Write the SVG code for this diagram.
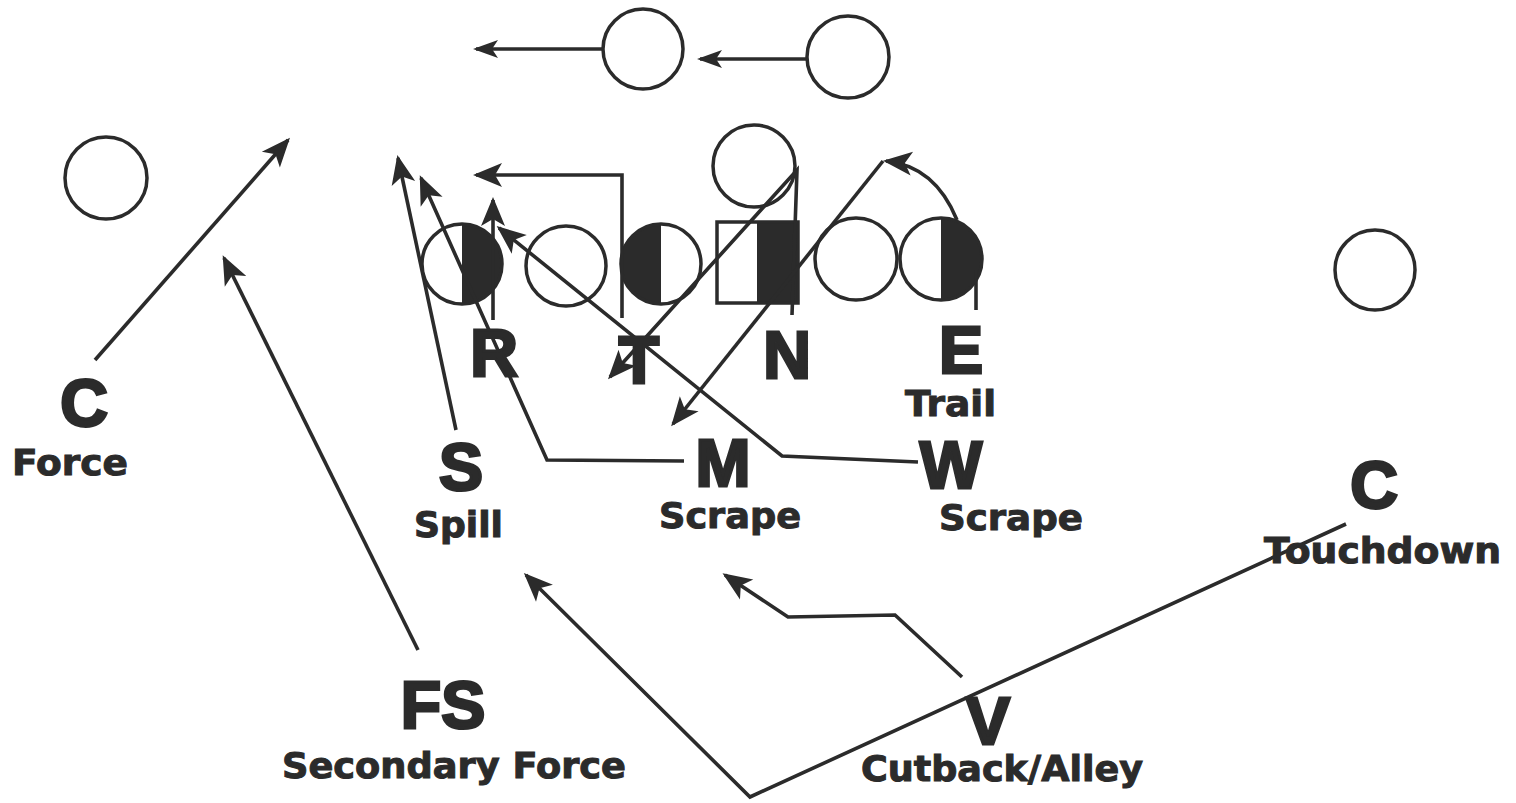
<svg xmlns="http://www.w3.org/2000/svg" width="1516" height="803" viewBox="0 0 1516 803">
<style>
.nd{fill:none;stroke:#2b2b2b;stroke-width:3.5}
.fl{fill:#2b2b2b;stroke:none}
.ln{fill:none;stroke:#2b2b2b;stroke-width:3.6;stroke-linejoin:miter}
.big{font-family:"Liberation Sans",Arial,sans-serif;font-weight:bold;font-size:66px;fill:#2b2b2b;stroke:#2b2b2b;stroke-width:3;text-anchor:middle}
.lab{font-family:"DejaVu Sans",Verdana,sans-serif;font-weight:bold;font-size:35px;fill:#2b2b2b;stroke:#2b2b2b;stroke-width:1}
</style>
<defs>
<marker id="ah" markerUnits="userSpaceOnUse" markerWidth="40" markerHeight="30" viewBox="-30 -15 40 30" refX="0" refY="0" orient="auto" overflow="visible">
<path d="M3 0 L-26 -12 L-19 0 L-26 12 Z" fill="#2b2b2b"/>
</marker>
<marker id="ahs" markerUnits="userSpaceOnUse" markerWidth="30" markerHeight="20" viewBox="-25 -10 30 20" refX="0" refY="0" orient="auto" overflow="visible">
<path d="M3 0 L-22 -9 L-16 0 L-22 9 Z" fill="#2b2b2b"/>
</marker>
</defs>
<rect width="1516" height="803" fill="#ffffff"/>

<g id="offense-top1"><circle class="nd" cx="643" cy="49" r="40"/></g>
<g id="offense-top2"><circle class="nd" cx="848" cy="57" r="41"/></g>
<g id="offense-left"><circle class="nd" cx="106" cy="178" r="41"/></g>
<g id="offense-right"><circle class="nd" cx="1375" cy="270" r="40"/></g>
<g id="offense-qb"><circle class="nd" cx="754" cy="166" r="41"/></g>
<g id="lineman-r">
<path class="fl" d="M462 224 A40 40 0 0 1 462 304 Z"/>
<circle class="nd" cx="462" cy="264" r="40"/>
</g>
<g id="lineman-g"><circle class="nd" cx="566" cy="266" r="40"/></g>
<g id="lineman-t">
<path class="fl" d="M661 224 A40 40 0 0 0 661 304 Z"/>
<circle class="nd" cx="661" cy="264" r="40"/>
</g>
<g id="center-n">
<rect class="fl" x="757" y="222" width="41" height="81"/>
<rect class="nd" x="717" y="222" width="81" height="81"/>
</g>
<g id="lineman-g2"><circle class="nd" cx="856" cy="259" r="41"/></g>
<g id="lineman-e">
<path class="fl" d="M941 218 A41 41 0 0 1 941 300 Z"/>
<circle class="nd" cx="941" cy="259" r="41"/>
</g>

<g id="connectors">
<path class="ln" d="M603 49 L476 49" marker-end="url(#ahs)"/>
<path class="ln" d="M808 59 L700 59" marker-end="url(#ahs)"/>
<path class="ln" d="M95 360 L288 140" marker-end="url(#ah)"/>
<path class="ln" d="M418 650 L224 258" marker-end="url(#ah)"/>
<path class="ln" d="M456 430 L398 158" marker-end="url(#ah)"/>
<path class="ln" d="M684 461 L547 460 L421 178" marker-end="url(#ah)"/>
<path class="ln" d="M493 320 L493 200" marker-end="url(#ah)"/>
<path class="ln" d="M918 462 L782 456 L499 228" marker-end="url(#ah)"/>
<path class="ln" d="M622 318 L622 175 L476 175" marker-end="url(#ah)"/>
<path class="ln" d="M792 315 L797 170 L610 377" marker-end="url(#ah)"/>
<path class="ln" d="M957 220 Q935 166 886 161" marker-end="url(#ah)"/>
<path class="ln" d="M883 161 L673 424" marker-end="url(#ah)"/>
<path class="ln" d="M976 270 L976 310"/>
<path class="ln" d="M962 677 L895 615 L788 617 L725 575" marker-end="url(#ah)"/>
<path class="ln" d="M1346 524 L750 797 L526 575" marker-end="url(#ah)"/>
</g>

<g id="labels">
<text class="big" x="494" y="376">R</text>
<text class="big" x="639" y="383">T</text>
<text class="big" x="787" y="378">N</text>
<text class="big" x="961" y="373">E</text>
<text class="lab" x="905" y="416" font-size="34" textLength="91" lengthAdjust="spacingAndGlyphs">Trail</text>
<text class="big" x="84" y="426">C</text>
<text class="lab" x="12" y="475" font-size="34" textLength="116" lengthAdjust="spacingAndGlyphs">Force</text>
<text class="big" x="461" y="490">S</text>
<text class="lab" x="414" y="537" font-size="36" textLength="89" lengthAdjust="spacingAndGlyphs">Spill</text>
<text class="big" x="723" y="486">M</text>
<text class="lab" x="659" y="528" textLength="142" lengthAdjust="spacingAndGlyphs">Scrape</text>
<text class="big" x="951" y="488">W</text>
<text class="lab" x="939" y="530" textLength="144" lengthAdjust="spacingAndGlyphs">Scrape</text>
<text class="big" x="1374" y="508">C</text>
<text class="lab" x="1264" y="563" font-size="36" textLength="237" lengthAdjust="spacingAndGlyphs">Touchdown</text>
<text class="big" x="443" y="728">FS</text>
<text class="lab" x="282" y="778" textLength="344" lengthAdjust="spacingAndGlyphs">Secondary Force</text>
<text class="big" x="988" y="744">V</text>
<text class="lab" x="861" y="781" font-size="36" textLength="282" lengthAdjust="spacingAndGlyphs">Cutback/Alley</text>
</g>
</svg>
